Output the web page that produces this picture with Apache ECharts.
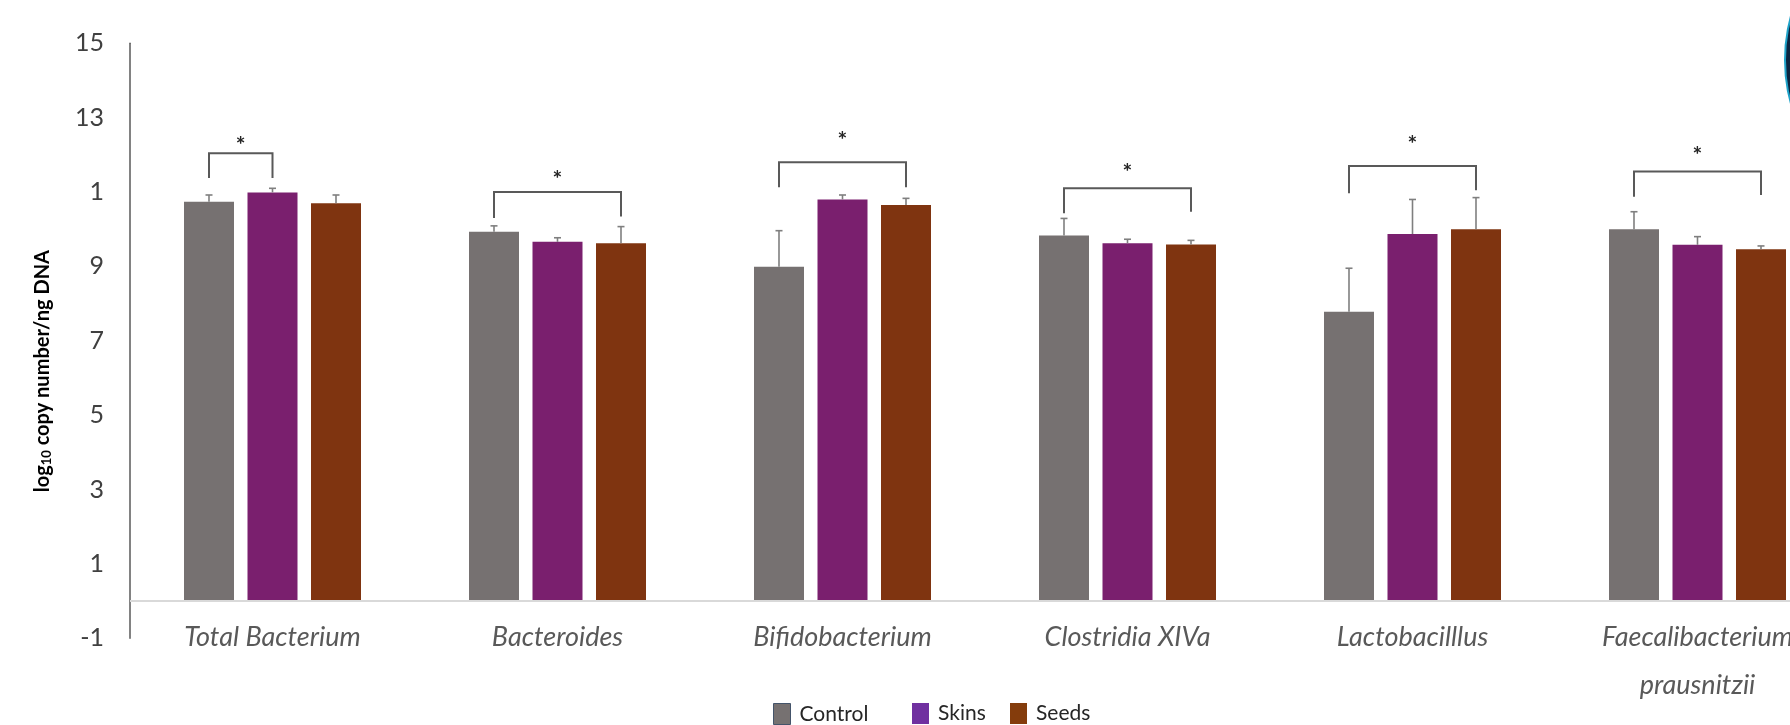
<!DOCTYPE html>
<html>
<head>
<meta charset="utf-8">
<script src="https://cdn.jsdelivr.net/npm/echarts@6/dist/echarts.min.js"></script>
<style>
html,body{margin:0;padding:0;background:#fff;overflow:hidden;width:1790px;height:725px;}
#chart{width:1840px;height:725px;}
</style>
</head>
<body>
<div id="chart"></div>
<script>
// ---- data ----
var categories = ['Total Bacterium', 'Bacteroides', 'Bifidobacterium', 'Clostridia XIVa', 'Lactobacilllus', 'Faecalibacterium\nprausnitzii'];
var seriesNames = ['Control', 'Skins', 'Seeds'];
var controlValues = [10.74, 9.93, 8.99, 9.83, 7.78, 10.00];
var skinsValues   = [10.99, 9.66, 10.80, 9.62, 9.87, 9.58];
var seedsValues   = [10.70, 9.62, 10.65, 9.59, 10.00, 9.46];
var controlErr = [0.18, 0.16, 0.97, 0.46, 1.17, 0.47];
var skinsErr   = [0.11, 0.11, 0.12, 0.11, 0.93, 0.22];
var seedsErr   = [0.22, 0.45, 0.18, 0.11, 0.85, 0.09];
// significance brackets: [category, fromSeries, toSeries, lineY, leftLegY, rightLegY, starY]
var brackets = [
  [0, 0, 1, 12.04, 11.38, 11.38, 12.35],
  [1, 0, 2, 11.00, 10.30, 10.34, 11.44],
  [2, 0, 2, 11.80, 11.13, 11.13, 12.50],
  [3, 0, 2, 11.10, 10.43, 10.47, 11.62],
  [4, 0, 2, 11.70, 10.97, 11.05, 12.38],
  [5, 0, 2, 11.55, 10.87, 10.92, 12.08]
];
var yTickValues = [-1, 1, 3, 5, 7, 9, 11, 13, 15];
var yTickLabels = ['-1', '1', '3', '5', '7', '9', '1', '13', '15'];

// ---- layout / style ----
var BAR_W = 50;
var BAR_GAP_PCT = 27;
var STEP = BAR_W * (1 + BAR_GAP_PCT / 100);
var barColors = ['#767171', '#7a1f6e', '#7f3410'];
var legendColors = ['#767171', '#7030a0', '#843c0c'];
var FONT = 'Lato, "Open Sans", sans-serif';

var chart = echarts.init(document.getElementById('chart'), null, {renderer: 'canvas'});

function errSeries(k, vals, errs) {
  return {
    type: 'custom',
    name: seriesNames[k] + ' error',
    silent: true,
    z: 5,
    data: vals.map(function (v, i) { return [i, v, errs[i]]; }),
    renderItem: function (params, api) {
      var c = api.value(0), v = api.value(1), e = api.value(2);
      var base = api.coord([c, v]);
      var top = api.coord([c, v + e]);
      var x = base[0] + (k - 1) * STEP;
      return {
        type: 'group',
        children: [
          {type: 'line', shape: {x1: x, y1: base[1], x2: x, y2: top[1]}, style: {stroke: '#7f7f7f', lineWidth: 1.6}},
          {type: 'line', shape: {x1: x - 3.5, y1: top[1], x2: x + 3.5, y2: top[1]}, style: {stroke: '#7f7f7f', lineWidth: 1.6}}
        ]
      };
    }
  };
}

var option = {
  backgroundColor: '#ffffff',
  animation: false,
  grid: {left: 130, top: 43.3, right: 0, bottom: 86.8, containLabel: false},
  xAxis: {
    type: 'category',
    data: categories,
    axisLine: {show: false},
    axisTick: {show: false},
    axisLabel: {
      interval: 0,
      margin: -25,
      fontFamily: FONT,
      fontStyle: 'italic',
      fontSize: 27,
      lineHeight: 48,
      color: '#595959'
    }
  },
  yAxis: {
    type: 'value',
    min: -1,
    max: 15,
    interval: 2,
    axisLine: {show: true, lineStyle: {color: '#595959', width: 1.5}},
    axisTick: {show: false},
    splitLine: {show: false},
    axisLabel: {
      margin: 26,
      fontFamily: FONT,
      fontSize: 25,
      color: '#404040',
      formatter: function (v) {
        var idx = yTickValues.indexOf(Math.round(v));
        return idx >= 0 ? yTickLabels[idx] : '';
      }
    }
  },
  legend: [0, 1, 2].map(function (k) {
    var lefts = [773, 912, 1010];
    return {
      left: lefts[k],
      top: 703,
      padding: 0,
      itemWidth: 17,
      itemHeight: 21,
      selectedMode: false,
      data: [{
        name: seriesNames[k],
        icon: 'rect',
        itemStyle: {color: legendColors[k], borderColor: k === 0 ? '#44546a' : legendColors[k], borderWidth: k === 0 ? 1 : 0}
      }],
      textStyle: {
        fontFamily: FONT,
        fontSize: 21,
        color: '#262626',
        padding: k === 1 ? [9, 0, 0, 4] : [0, 0, 0, 4]
      }
    };
  }),
  graphic: [
    {
      type: 'text',
      left: 33,
      top: 250,
      rotation: Math.PI / 2,
      style: {
        text: '{a|log}{b|10}{a| copy number/ng DNA}',
        fill: '#000',
        rich: {
          a: {fontFamily: FONT, fontSize: 20, fontWeight: 'bold', fill: '#000'},
          b: {fontFamily: FONT, fontSize: 13, fontWeight: 'bold', fill: '#000', verticalAlign: 'bottom', padding: [7, 0, 0, 0]}
        }
      }
    },
    {
      type: 'circle',
      shape: {cx: 1950, cy: 60, r: 165},
      style: {fill: '#0b2440', stroke: '#1fa3c9', lineWidth: 2},
      silent: true
    }
  ],
  series: [
    {
      type: 'bar', name: 'Control', data: controlValues,
      barWidth: BAR_W, barGap: BAR_GAP_PCT + '%',
      itemStyle: {color: barColors[0]},
      markLine: {
        silent: true, symbol: 'none', label: {show: false},
        lineStyle: {color: '#d9d9d9', width: 2, type: 'solid'},
        data: [{yAxis: 0}]
      },
      z: 2
    },
    {type: 'bar', name: 'Skins', data: skinsValues, barWidth: BAR_W, barGap: BAR_GAP_PCT + '%', itemStyle: {color: barColors[1]}, z: 2},
    {type: 'bar', name: 'Seeds', data: seedsValues, barWidth: BAR_W, barGap: BAR_GAP_PCT + '%', itemStyle: {color: barColors[2]}, z: 2},
    errSeries(0, controlValues, controlErr),
    errSeries(1, skinsValues, skinsErr),
    errSeries(2, seedsValues, seedsErr),
    {
      type: 'custom',
      name: 'significance',
      silent: true,
      z: 6,
      data: brackets,
      renderItem: function (params, api) {
        var c = api.value(0), f = api.value(1), t = api.value(2);
        var lineY = api.coord([c, api.value(3)]);
        var legL = api.coord([c, api.value(4)]);
        var legR = api.coord([c, api.value(5)]);
        var star = api.coord([c, api.value(6)]);
        var x1 = lineY[0] + (f - 1) * STEP;
        var x2 = lineY[0] + (t - 1) * STEP;
        return {
          type: 'group',
          children: [
            {type: 'polyline', shape: {points: [[x1, legL[1]], [x1, lineY[1]], [x2, lineY[1]], [x2, legR[1]]]},
             style: {stroke: '#595959', lineWidth: 2, fill: null}},
            {type: 'text', x: (x1 + x2) / 2, y: star[1] + 4,
             style: {text: '*', fontFamily: FONT, fontSize: 23, fontWeight: 'bold', fill: '#262626', align: 'center', verticalAlign: 'middle'}}
          ]
        };
      }
    }
  ]
};
chart.setOption(option);
</script>
</body>
</html>
